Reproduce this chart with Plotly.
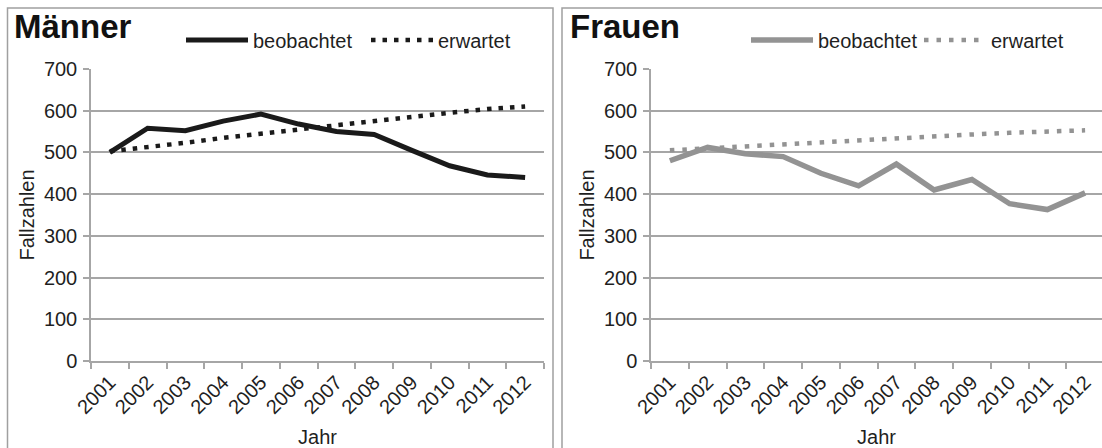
import plotly.graph_objects as go

W, H = 1102, 448

years = ["2001", "2002", "2003", "2004", "2005", "2006", "2007", "2008", "2009", "2010", "2011", "2012"]
maenner_beob = [500, 558, 552, 575, 592, 568, 550, 543, 505, 468, 446, 440]
maenner_erw = [503, 512, 523, 535, 545, 557, 565, 575, 585, 595, 604, 610]
frauen_beob = [480, 512, 497, 490, 450, 420, 472, 410, 435, 377, 363, 403]
frauen_erw = [505, 510, 514, 518, 524, 530, 535, 538, 543, 547, 551, 553]
y_ticks = [0, 100, 200, 300, 400, 500, 600, 700]

FONT = "Liberation Sans, Arial, sans-serif"
GRID = "#a6a6a6"
BLACK = "#1a1a1a"
GREY = "#939393"
TXT = "#1f1f1f"
FS = 20

fig = go.Figure()

fig.add_trace(go.Scatter(x=years, y=maenner_beob, mode="lines", name="beobachtet",
                         line=dict(color=BLACK, width=5), xaxis="x", yaxis="y", legend="legend"))
fig.add_trace(go.Scatter(x=years, y=maenner_erw, mode="lines", name="erwartet",
                         line=dict(color=BLACK, width=4.5, dash="4.5px,7px"), xaxis="x", yaxis="y", legend="legend"))
fig.add_trace(go.Scatter(x=years, y=frauen_beob, mode="lines", name="beobachtet",
                         line=dict(color=GREY, width=5.5), xaxis="x2", yaxis="y2", legend="legend2"))
fig.add_trace(go.Scatter(x=years, y=frauen_erw, mode="lines", name="erwartet",
                         line=dict(color=GREY, width=4.5, dash="4.5px,8px"), xaxis="x2", yaxis="y2", legend="legend2"))

ydom = [(H - 361) / H, (H - 69) / H]

def xaxis(domain, rng, anchor):
    return dict(domain=domain, anchor=anchor, type="category", range=rng, automargin=False,
                showgrid=False, showline=True, linecolor=GRID, linewidth=1.5,
                ticks="outside", tickson="boundaries", ticklen=6, tickcolor=GRID, tickwidth=1.5,
                tickangle=-45, tickfont=dict(family=FONT, size=FS, color=TXT),
                title=dict(text="Jahr", font=dict(family=FONT, size=FS, color=TXT), standoff=13),
                fixedrange=True)

def yaxis(anchor):
    return dict(domain=ydom, anchor=anchor, range=[0, 700], tickvals=y_ticks, automargin=False,
                showgrid=True, gridcolor=GRID, gridwidth=1.5, zeroline=False,
                showline=True, linecolor=GRID, linewidth=1.5,
                ticks="outside", ticklen=6, tickcolor=GRID, tickwidth=1.5, ticklabelstandoff=2,
                tickfont=dict(family=FONT, size=FS, color=TXT),
                title=dict(text="Fallzahlen", font=dict(family=FONT, size=FS, color=TXT), standoff=4),
                fixedrange=True)

fig.update_layout(
    width=W, height=H,
    margin=dict(l=0, r=0, t=0, b=0),
    paper_bgcolor="white", plot_bgcolor="white",
    font=dict(family=FONT, size=FS, color=TXT),
    xaxis=xaxis([91 / W, 544 / W], [-0.5, 11.5], "y"),
    yaxis=yaxis("x"),
    xaxis2=xaxis([651 / W, 1.0], [-0.5, 11.5 - 2 / 37.75], "y2"),
    yaxis2=yaxis("x2"),
    legend=dict(orientation="h", x=181 / W, y=(H - 40) / H, xanchor="left", yanchor="middle",
                font=dict(family=FONT, size=FS, color=TXT), bgcolor="rgba(0,0,0,0)",
                itemwidth=62, entrywidth=108, entrywidthmode="pixels", tracegroupgap=0),
    legend2=dict(orientation="h", x=746 / W, y=(H - 40) / H, xanchor="left", yanchor="middle",
                 font=dict(family=FONT, size=FS, color=TXT), bgcolor="rgba(0,0,0,0)",
                 itemwidth=62, entrywidth=96, entrywidthmode="pixels", tracegroupgap=0),
    showlegend=True,
    annotations=[
        dict(text="<b>Männer</b>", x=12 / W, y=(H - 27) / H, xref="paper", yref="paper",
             xanchor="left", yanchor="middle", showarrow=False,
             font=dict(family=FONT, size=33, color="#111")),
        dict(text="<b>Frauen</b>", x=568 / W, y=(H - 27) / H, xref="paper", yref="paper",
             xanchor="left", yanchor="middle", showarrow=False,
             font=dict(family=FONT, size=33, color="#111")),
    ],
    shapes=[
        dict(type="rect", xref="paper", yref="paper", x0=7.5 / W, x1=553 / W, y0=-0.02, y1=(H - 8) / H,
             line=dict(color="#a0a0a0", width=1.5), layer="below"),
        dict(type="rect", xref="paper", yref="paper", x0=562 / W, x1=1.02, y0=-0.02, y1=(H - 8) / H,
             line=dict(color="#a0a0a0", width=1.5), layer="below"),
    ],
)

fig.write_html("out.html", config={"displayModeBar": False},
               post_script="document.body.style.margin='0';document.body.style.overflow='hidden';")
